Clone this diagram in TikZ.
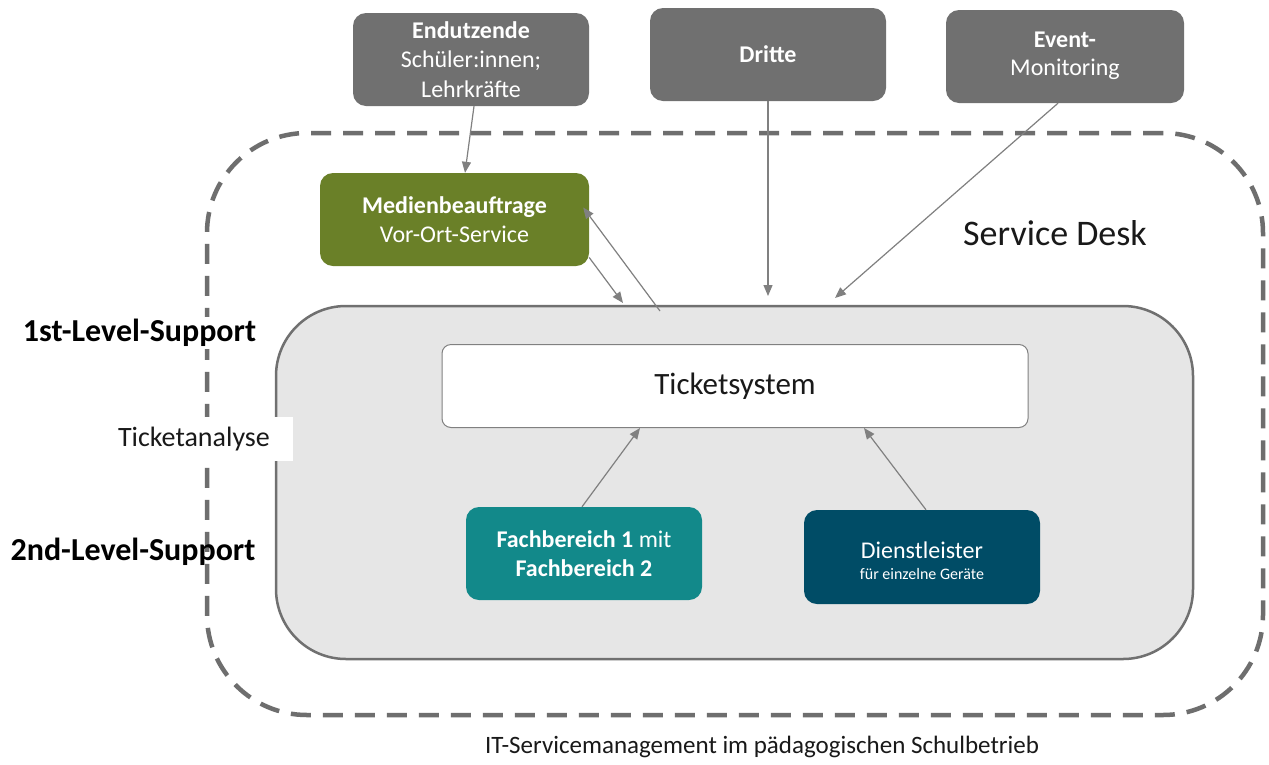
\documentclass[tikz,border=0pt]{standalone}
\usepackage{fontspec}
\setmainfont{Carlito}
\usetikzlibrary{arrows.meta}
\definecolor{boxgray}{RGB}{112,112,112}
\definecolor{dashgray}{RGB}{110,110,110}
\definecolor{arrgray}{RGB}{128,128,128}
\definecolor{mbgreen}{RGB}{106,128,40}
\definecolor{fbteal}{RGB}{18,137,138}
\definecolor{dlblue}{RGB}{0,76,102}
\definecolor{areagray}{RGB}{230,230,230}
\definecolor{areaborder}{RGB}{112,112,112}
\definecolor{txt}{RGB}{25,25,25}
\begin{document}
\begin{tikzpicture}[x=1pt,y=-1pt,
  box/.style={rectangle, rounded corners=13pt, text=white, minimum width=236pt,
    minimum height=93pt, inner sep=0pt, align=center, font=\fontsize{24}{29.5}\selectfont},
  topbox/.style={box, fill=boxgray},
  arr/.style={draw=arrgray, line width=1.2pt, -{Triangle[length=11pt,width=9pt]}},
  lvl/.style={font=\fontsize{32}{36}\selectfont\bfseries, text=black, inner sep=2pt}
]
\useasboundingbox (0,0) rectangle (1269,764);
\fill[white] (0,0) rectangle (1269,764);

% service desk outline
\node[draw=dashgray, line width=4.5pt, dash pattern=on 20pt off 12pt, rounded corners=100pt,
  minimum width=1056pt, minimum height=582pt, inner sep=0pt] (sd) at (735,424) {};

% support area
\node[draw=areaborder, fill=areagray, line width=2.5pt, rounded corners=70pt,
  minimum width=917pt, minimum height=353pt, inner sep=0pt] (support) at (734.5,482.5) {};

% top boxes
\node[topbox] (endn) at (471,59.5) {\textbf{Endutzende}\\Schüler:innen;\\Lehrkräfte};
\node[topbox] (dritte) at (768,54.5) {\textbf{Dritte}};
\node[topbox, minimum width=238pt] (event) at (1065,56.5) {\textbf{Event-}\\[-1pt]Monitoring\rule[-6pt]{0pt}{6pt}};

% medienbeauftrage
\node[box, fill=mbgreen, minimum width=269pt] (medien) at (454.5,219.5)
  {\textbf{Medienbeauftrage}\\Vor-Ort-Service};

% ticketsystem
\node[rectangle, rounded corners=9pt, fill=white, draw=arrgray, line width=1pt,
  minimum width=586pt, minimum height=83pt, inner sep=0pt, text=txt,
  font=\fontsize{31}{36}\selectfont] (ticket) at (735,386) {Ticketsystem};

% 2nd level boxes
\node[box, fill=fbteal] (fach) at (584,553.5)
  {\textbf{Fachbereich 1} mit\\\textbf{Fachbereich 2}};
\node[box, fill=dlblue, minimum height=94pt] (dienst) at (922,557)
  {\rule{0pt}{24pt}Dienstleister\\[-8pt]{\fontsize{16}{20}\selectfont für einzelne Geräte}};

% labels
\node[lvl, fill=white] (l1) at (139.5,333) {1st-Level-Support};
\node[lvl] (l2) at (133,552) {2nd-Level-Support};
\node[fill=white, minimum width=181pt, minimum height=44pt, text width=169pt,
  inner xsep=6pt, inner ysep=0pt, align=left, text=txt,
  font=\fontsize{28}{32}\selectfont] (ana) at (202.5,439) {Ticketanalyse};
\node[text=txt, font=\fontsize{36}{40}\selectfont] (desk) at (1055,233) {Service Desk};
\node[text=txt, font=\fontsize{25}{30}\selectfont] (caption) at (762,747)
  {IT-Servicemanagement im pädagogischen Schulbetrieb};

% connector ends on the support area
\coordinate (t1) at (623,303);
\coordinate (s2) at (660,311);
\coordinate (t3) at (768,296);
\coordinate (t4) at (835,298);

% connectors
\draw[arr] ([xshift=3pt]endn.south) -- ([xshift=10.5pt]medien.north);
\draw[arr] ([yshift=-38pt]medien.east) -- (t1);
\draw[arr] (s2) -- ([xshift=-6pt,yshift=12pt]medien.east);
\draw[arr] (dritte.south) -- (t3);
\draw[arr] ([xshift=-7pt]event.south) -- (t4);
\draw[arr] ([xshift=-2pt]fach.north) -- ([xshift=-95pt]ticket.south);
\draw[arr] ([xshift=4pt]dienst.north) -- ([xshift=129pt]ticket.south);
\end{tikzpicture}
\end{document}
